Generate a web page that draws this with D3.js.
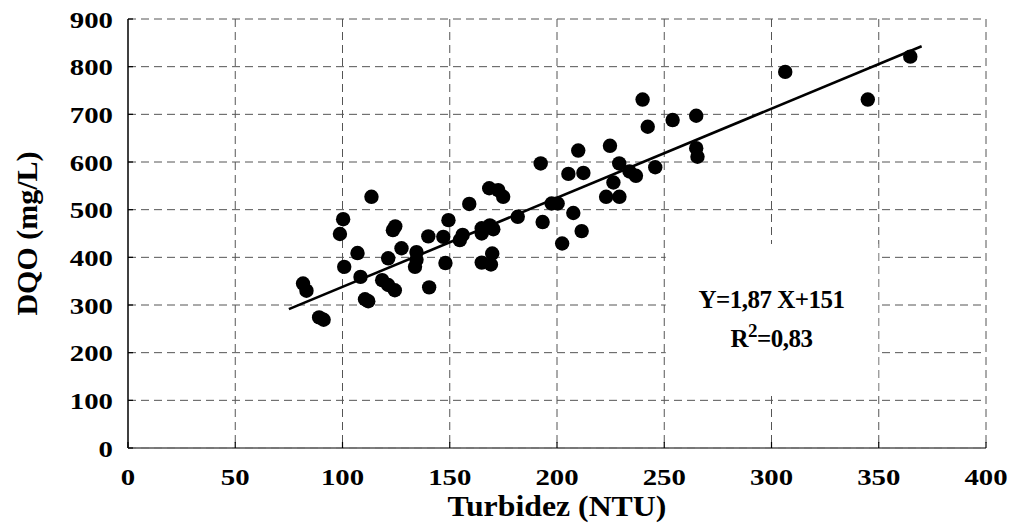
<!DOCTYPE html>
<html>
<head>
<meta charset="utf-8">
<script src="https://cdn.jsdelivr.net/npm/d3@7"></script>
<style>
  body { margin: 0; background: #fff; }
  text { font-family: "Liberation Serif", "Times New Roman", serif; font-weight: bold; fill: #000; }
</style>
</head>
<body>
<div id="chart"></div>
<script>
// data
const turbidez = [81.6, 83.2, 89.1, 91.2, 98.8, 100.3, 100.8, 107, 108.4, 110.5, 112, 113.5,
    118.5, 121.3, 121.3, 123.5, 124.6, 124.4, 127.5, 134.5, 134.5, 133.8, 140, 140.4,
    147, 149.4, 148, 154.7, 156, 159.1, 164.9, 164.9, 168.7, 170.3, 164.9, 169.8, 169.2,
    168.4, 172.6, 174.9, 181.7, 193.3, 197.5, 200.3, 202.4, 207.6, 211.5, 205.3, 212.3,
    192.4, 209.9, 224.7, 222.9, 229.1, 226.3, 229, 233.8, 236.8, 245.8, 239.9, 242.3,
    253.9, 264.9, 264.9, 265.5, 306.4, 344.9, 364.7];
const dqo = [345, 330, 274, 269, 449, 480, 380, 409, 359, 312, 308, 527,
    352, 342, 398, 457, 465, 331, 419, 411, 395, 380, 444, 337,
    443, 478, 388, 436, 447, 512, 461, 450, 467, 459, 389, 408, 385,
    545, 541, 527, 485, 474, 513, 513, 429, 493, 455, 575, 577,
    597, 624, 634, 527, 527, 557, 597, 580, 571, 589, 731, 674,
    688, 697, 629, 611, 789, 731, 821];

const xTicks = [0, 50, 100, 150, 200, 250, 300, 350, 400];
const yTicks = [0, 100, 200, 300, 400, 500, 600, 700, 800, 900];

// regression Y = 1,87 X + 151
const slope = 1.87, intercept = 151;
const fitRange = [75, 370];

// set the dimensions and margins of the graph
const margin = {top: 19, right: 24, bottom: 78, left: 128},
    width = 1010 - margin.left - margin.right,
    height = 526 - margin.top - margin.bottom;

const svg = d3.select("#chart")
    .append("svg")
    .attr("width", width + margin.left + margin.right)
    .attr("height", height + margin.top + margin.bottom)
    .append("g")
    .attr("transform", `translate(${margin.left},${margin.top})`);

const x = d3.scaleLinear().domain([0, 400]).range([0, width]);
const y = d3.scaleLinear().domain([0, 900]).range([height, 0]);

// grid lines
svg.append("g")
    .selectAll("line")
    .data(yTicks.filter(d => d > 0))
    .join("line")
    .attr("x1", 0).attr("x2", width)
    .attr("y1", d => y(d)).attr("y2", d => y(d))
    .attr("stroke", "#555").attr("stroke-width", 1)
    .attr("stroke-dasharray", "8,5");

svg.append("g")
    .selectAll("line")
    .data(xTicks.filter(d => d > 0))
    .join("line")
    .attr("x1", d => x(d)).attr("x2", d => x(d))
    .attr("y1", 0).attr("y2", height)
    .attr("stroke", "#555").attr("stroke-width", 1)
    .attr("stroke-dasharray", "8,5");

// white box behind the equation
svg.append("rect")
    .attr("x", x(250) + 1.5)
    .attr("y", y(428))
    .attr("width", x(350) - x(250) - 2)
    .attr("height", y(113) - y(428))
    .attr("fill", "#fff");

// axes
svg.append("line")
    .attr("x1", 0).attr("x2", 0).attr("y1", 0).attr("y2", height)
    .attr("stroke", "#000").attr("stroke-width", 1.5);
svg.append("line")
    .attr("x1", 0).attr("x2", width).attr("y1", height).attr("y2", height)
    .attr("stroke", "#000").attr("stroke-width", 1);
svg.append("line")
    .attr("x1", 0).attr("x2", width).attr("y1", height).attr("y2", height)
    .attr("stroke", "#777").attr("stroke-width", 2)
    .attr("stroke-dasharray", "8,5");

// small ticks
svg.append("g").selectAll("line")
    .data(yTicks)
    .join("line")
    .attr("x1", 0).attr("x2", 5)
    .attr("y1", d => y(d)).attr("y2", d => y(d))
    .attr("stroke", "#000").attr("stroke-width", 1.2);
svg.append("g").selectAll("line")
    .data(xTicks)
    .join("line")
    .attr("x1", d => x(d)).attr("x2", d => x(d))
    .attr("y1", height).attr("y2", height - 6)
    .attr("stroke", "#000").attr("stroke-width", 1.2);

// tick labels (glyphs in the original are a bit wider than the font)
svg.append("g").selectAll("text")
    .data(yTicks)
    .join("text")
    .attr("transform", d => `translate(-15,${y(d) + 8.5}) scale(1.2,1)`)
    .attr("text-anchor", "end")
    .style("font-size", "24px")
    .text(d => d);

svg.append("g").selectAll("text")
    .data(xTicks)
    .join("text")
    .attr("transform", d => `translate(${x(d)},${height + 37}) scale(1.2,1)`)
    .attr("text-anchor", "middle")
    .style("font-size", "24px")
    .text(d => d);

// axis titles
svg.append("text")
    .attr("transform", `translate(${width / 2},${height + 68}) scale(1.06,1)`)
    .attr("text-anchor", "middle")
    .style("font-size", "30px")
    .text("Turbidez (NTU)");

svg.append("text")
    .attr("transform", `translate(${-91},${height / 2}) rotate(-90)`)
    .attr("text-anchor", "middle")
    .style("font-size", "30px")
    .text("DQO (mg/L)");

// regression line
svg.append("line")
    .attr("x1", x(fitRange[0])).attr("y1", y(slope * fitRange[0] + intercept))
    .attr("x2", x(fitRange[1])).attr("y2", y(slope * fitRange[1] + intercept))
    .attr("stroke", "#000").attr("stroke-width", 2.6);

// dots
svg.append("g")
    .selectAll("circle")
    .data(turbidez.map((t, i) => [t, dqo[i]]))
    .join("circle")
    .attr("cx", d => x(d[0]))
    .attr("cy", d => y(d[1]))
    .attr("r", 7.2)
    .attr("fill", "#000");

// equation
const eqX = x(300);
svg.append("text")
    .attr("x", eqX)
    .attr("y", y(300) + 3)
    .attr("text-anchor", "middle")
    .style("font-size", "25px")
    .style("letter-spacing", "-0.5px")
    .text("Y=1,87 X+151");

const r2 = svg.append("text")
    .attr("x", eqX)
    .attr("y", y(218) + 3)
    .attr("text-anchor", "middle")
    .style("font-size", "25px")
    .style("letter-spacing", "-0.5px");
r2.append("tspan").text("R");
r2.append("tspan").attr("dy", -10).style("font-size", "19px").text("2");
r2.append("tspan").attr("dy", 10).text("=0,83");
</script>
</body>
</html>
